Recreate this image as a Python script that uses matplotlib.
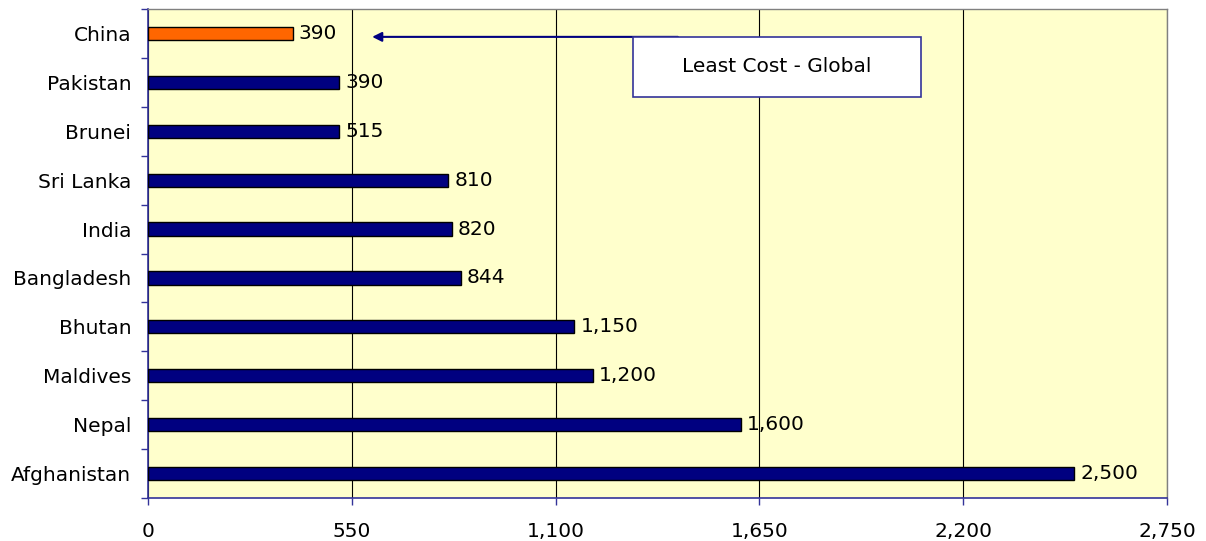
import matplotlib
matplotlib.use("Agg")
import matplotlib.pyplot as plt
from matplotlib.ticker import FuncFormatter, FixedLocator
from matplotlib.patches import Rectangle

plt.rcParams['font.family'] = ['DejaVu Sans']

countries = ["China", "Pakistan", "Brunei", "Sri Lanka", "India", "Bangladesh",
             "Bhutan", "Maldives", "Nepal", "Afghanistan"]
bar_values = [390, 515, 515, 810, 820, 844, 1150, 1200, 1600, 2500]
value_labels = ["390", "390", "515", "810", "820", "844", "1,150", "1,200", "1,600", "2,500"]
bar_colors = ["#FF6600"] + ["#000080"] * 9
x_ticks = [0, 550, 1100, 1650, 2200, 2750]
annotation_text = "Least Cost - Global"

FS = 14.5

fig = plt.figure(figsize=(12.06, 5.41), dpi=100)
ax = fig.add_axes([148/1206, 1 - 498/541, (1167-148)/1206, (498-9)/541])
ax.set_facecolor("#FFFFCC")

ypos = list(range(len(countries)))
ax.barh(ypos, bar_values, height=0.27, color=bar_colors, edgecolor="black",
        linewidth=1.0, zorder=3)

for y, v, lab in zip(ypos, bar_values, value_labels):
    ax.annotate(lab, (v, y), xytext=(4.5, 0), textcoords="offset points",
                ha="left", va="center", fontsize=FS, zorder=4)

ax.set_xlim(0, 2750)
ax.set_ylim(len(countries) - 0.5, -0.5)

ax.xaxis.set_major_locator(FixedLocator(x_ticks))
ax.xaxis.set_major_formatter(FuncFormatter(lambda v, p: f"{int(v):,}"))
ax.set_yticks(ypos)
ax.set_yticklabels(countries)
ax.set_yticks([i - 0.5 for i in range(len(countries) + 1)], minor=True)
ax.tick_params(axis="y", which="major", length=0, pad=12, labelsize=FS)
ax.tick_params(axis="y", which="minor", length=5, width=1, color="#333399", direction="out")
ax.tick_params(axis="x", which="major", length=5, width=1, color="#333399",
               direction="out", pad=12, labelsize=FS)

ax.grid(axis="x", color="black", linewidth=0.8, zorder=1)
ax.set_axisbelow(True)

for s in ["top", "right"]:
    ax.spines[s].set_color("#808080")
    ax.spines[s].set_linewidth(1.0)
for s in ["left", "bottom"]:
    ax.spines[s].set_color("#333399")
    ax.spines[s].set_linewidth(1.2)

# arrow
ax.annotate("", xy=(605, 0.07), xytext=(1430, 0.07),
            arrowprops=dict(arrowstyle="-|>", color="#000080", lw=1.5,
                            mutation_scale=14, shrinkA=0, shrinkB=0), zorder=5)

# text box
rect = Rectangle((1309, 0.07), 2086 - 1309, 1.23, facecolor="white",
                 edgecolor="#333399", linewidth=1.2, zorder=6)
ax.add_patch(rect)
ax.text((1309 + 2086) / 2, 0.07 + 1.23 / 2, annotation_text, ha="center", va="center",
        fontsize=FS, zorder=7)

fig.savefig("out.png", dpi=100)
